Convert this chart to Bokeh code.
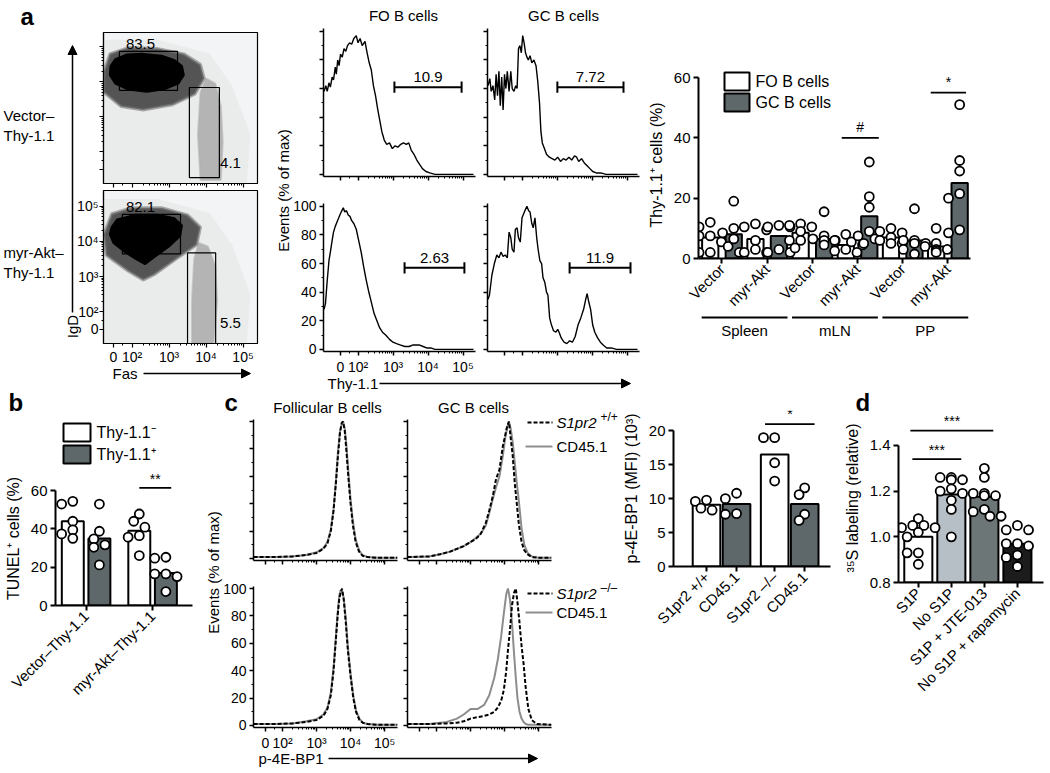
import math
from bokeh.plotting import figure
from bokeh.models import Range1d, FixedTicker, Arrow, NormalHead, Column, CustomLabelingPolicy
from bokeh.embed import file_html
from bokeh.resources import INLINE
from bokeh.core.properties import value

FONT = "Liberation Sans"
DARK = "#5e686a"
LIGHT = "#b6bec6"
MID = "#6d7677"
BLACK = "#1c1c1c"

# ---------------- data ----------------
# flow-cytometry display units: 0 -> 0, 10^2 -> 0.5, 10^3 -> 1.5, 10^4 -> 2.5, 10^5 -> 3.5
log_tick_pos = [0, 0.5, 1.5, 2.5, 3.5]
log_tick_lab = ["0", "10\u00b2", "10\u00b3", "10\u2074", "10\u2075"]

# panel a dot plots: gates (x0, x1, y0, y1) and their frequencies
gate_vec = [(0.16, 1.73, 2.26, 3.37), (2.05, 2.86, -0.23, 2.34)]
gate_akt = [(0.24, 1.81, 2.14, 3.26), (2.0, 2.76, -0.45, 2.17)]
freq_vec = ["83.5", "4.1"]
freq_akt = ["82.1", "5.5"]
# population outlines (display units)
vec_core_x = [-0.08, 0.05, 0.35, 0.8, 1.3, 1.65, 1.85, 1.9, 1.75, 1.4, 0.9, 0.4, 0.05, -0.1]
vec_core_y = [2.95, 3.15, 3.28, 3.3, 3.25, 3.12, 2.95, 2.7, 2.45, 2.3, 2.22, 2.28, 2.45, 2.7]
vec_halo_x = [-0.26, -0.1, 0.4, 1.2, 1.9, 2.35, 2.45, 2.2, 1.6, 0.8, 0.2, -0.26]
vec_halo_y = [2.8, 3.3, 3.48, 3.45, 3.3, 3.0, 2.6, 2.15, 1.85, 1.7, 1.8, 2.2]
vec_gc_x = [2.35, 2.9, 2.95, 2.9, 2.75, 2.5, 2.35, 2.28]
vec_gc_y = [-0.3, -0.3, 0.8, 1.8, 2.45, 2.6, 2.2, 1.0]
akt_core_x = [-0.05, 0.1, 0.6, 1.2, 1.65, 1.85, 1.8, 1.5, 1.1, 0.85, 0.6, 0.3, 0.0, -0.1]
akt_core_y = [2.9, 3.12, 3.25, 3.25, 3.15, 2.95, 2.65, 2.35, 2.05, 1.85, 2.0, 2.2, 2.45, 2.7]
akt_halo_x = [-0.26, -0.05, 0.5, 1.3, 2.0, 2.35, 2.25, 1.7, 1.1, 0.8, 0.4, -0.2]
akt_halo_y = [2.7, 3.28, 3.45, 3.45, 3.25, 2.9, 2.4, 2.0, 1.55, 1.4, 1.65, 2.1]
akt_gc_x = [2.12, 2.7, 2.8, 2.75, 2.55, 2.3, 2.18, 2.12]
akt_gc_y = [-0.4, -0.4, 0.8, 1.8, 2.35, 2.45, 2.0, 0.8]
sparse_x = [-0.27, 3.6, 3.7, 3.2, 2.6, 1.2, -0.27]
sparse_y = [-0.4, -0.4, 1.0, 2.4, 3.3, 3.7, 3.7]

# panel a histograms (Thy-1.1, % of max)
ha_fo_vec_x = [-0.47, -0.42, -0.38, -0.33, -0.29, -0.24, -0.2, -0.15, -0.12, -0.08, -0.04, 0.0, 0.05, 0.1, 0.15, 0.2, 0.26, 0.32, 0.38, 0.45, 0.5, 0.56, 0.62, 0.7, 0.76, 0.82, 0.88, 0.94, 1.0, 1.06, 1.12, 1.18, 1.25, 1.32, 1.4, 1.48, 1.56, 1.64, 1.72, 1.8, 1.88, 1.95, 2.02, 2.1, 2.18, 2.26, 2.34, 2.44, 2.55, 2.7, 3.8]
ha_fo_vec_y = [58, 62, 58, 64, 61, 68, 66, 75, 70, 80, 76, 84, 82, 88, 86, 90, 92, 91, 95, 97, 92, 95, 90, 93, 85, 78, 73, 62, 55, 46, 38, 30, 24, 21, 22, 18, 20, 19, 21, 22, 21, 22, 17, 14, 10, 7, 4, 2, 1, 0, 0]
ha_gc_vec_x = [-0.47, -0.42, -0.38, -0.33, -0.28, -0.24, -0.2, -0.16, -0.12, -0.08, -0.04, 0.0, 0.04, 0.08, 0.13, 0.18, 0.22, 0.27, 0.32, 0.36, 0.4, 0.44, 0.48, 0.52, 0.56, 0.6, 0.64, 0.68, 0.73, 0.78, 0.84, 0.9, 0.95, 1.0, 1.04, 1.08, 1.14, 1.2, 1.28, 1.36, 1.44, 1.52, 1.6, 1.68, 1.76, 1.84, 1.92, 2.0, 2.06, 2.12, 2.2, 2.28, 2.36, 2.44, 2.52, 2.62, 2.75, 2.9, 3.8]
ha_gc_vec_y = [62, 67, 58, 62, 52, 70, 55, 72, 48, 68, 45, 70, 60, 72, 58, 72, 60, 58, 62, 60, 88, 90, 85, 97, 92, 85, 82, 80, 83, 78, 80, 76, 65, 50, 30, 22, 18, 14, 12, 11, 10, 12, 9, 11, 10, 12, 10, 13, 12, 9, 11, 8, 6, 4, 2, 1, 1, 0, 0]
ha_fo_akt_x = [-0.47, -0.43, -0.38, -0.33, -0.29, -0.24, -0.2, -0.15, -0.1, -0.05, 0.0, 0.04, 0.08, 0.12, 0.17, 0.22, 0.27, 0.32, 0.38, 0.45, 0.52, 0.59, 0.66, 0.73, 0.8, 0.88, 0.96, 1.04, 1.12, 1.2, 1.29, 1.4, 1.5, 1.6, 1.72, 1.84, 1.96, 2.06, 2.16, 2.26, 2.36, 2.46, 2.58, 2.7, 3.8]
ha_fo_akt_y = [28, 32, 48, 62, 68, 76, 82, 86, 89, 92, 95, 97, 99, 96, 97, 94, 93, 90, 88, 84, 76, 68, 58, 49, 41, 33, 25, 20, 15, 12, 10, 7, 5, 4, 3, 2, 2, 3, 3, 3, 2, 1, 1, 0, 0]
ha_gc_akt_x = [-0.47, -0.43, -0.36, -0.29, -0.22, -0.16, -0.1, -0.04, 0.02, 0.08, 0.13, 0.18, 0.22, 0.27, 0.31, 0.36, 0.4, 0.45, 0.5, 0.55, 0.6, 0.64, 0.69, 0.73, 0.78, 0.82, 0.87, 0.92, 0.96, 1.01, 1.06, 1.1, 1.15, 1.2, 1.24, 1.29, 1.33, 1.4, 1.47, 1.52, 1.56, 1.62, 1.7, 1.78, 1.86, 1.94, 2.02, 2.1, 2.18, 2.26, 2.32, 2.36, 2.4, 2.46, 2.52, 2.58, 2.66, 2.74, 2.82, 2.92, 3.05, 3.2, 3.8]
ha_gc_akt_y = [35, 38, 52, 60, 66, 64, 68, 65, 66, 64, 82, 78, 70, 68, 84, 85, 78, 75, 92, 95, 98, 100, 97, 96, 88, 85, 92, 78, 70, 62, 60, 50, 47, 40, 38, 22, 18, 13, 12, 14, 12, 8, 5, 4, 6, 5, 9, 17, 22, 28, 35, 39, 34, 28, 17, 12, 8, 5, 3, 1, 1, 0, 0]
# gates on histograms: (start, end, height %) and frequency
ha_gates = [(1.54, 3.46, 61), (1.51, 3.4, 61), (1.83, 3.54, 57), (1.86, 3.6, 57)]
ha_freq = ["10.9", "7.72", "2.63", "11.9"]

# panel a bar chart: Thy-1.1+ cells (%)
a_constructs = ["Vector", "myr-Akt", "Vector", "myr-Akt", "Vector", "myr-Akt"]
a_tissues = ["Spleen", "mLN", "PP"]
a_fo_mean = [7.0, 6.5, 8.5, 4.5, 7.0, 4.0]
a_gc_mean = [8.0, 7.5, 6.5, 14.0, 6.0, 25.0]
a_fo_pts = [[12, 10.5, 7.5, 7.5, 5.5, 2, 2], [11.5, 10.5, 9.5, 6, 3, 2, 2], [11.5, 11, 10.5, 9, 6, 6, 3.5],
            [8, 6, 5.5, 4.5, 3, 2.5, 2], [10, 9, 8.5, 7, 6, 5, 5], [10, 5, 4, 3, 3, 2.5, 2]]
a_gc_pts = [[19, 10, 8.5, 6.5, 4, 2], [11, 10.5, 10.5, 3, 2, 2], [15.5, 7.5, 6.5, 6, 6, 4.5],
            [32, 20.5, 17, 9, 7.5, 6.5, 5], [16.5, 6, 6, 5, 5, 3, 1.5], [51, 32.5, 29, 21.5, 20, 9.5, 8.5]]

# panel b: TUNEL+ cells (%)
b_groups = ["Vector\u2013Thy-1.1", "myr-Akt\u2013Thy-1.1"]
b_neg_mean = [44.0, 39.0]
b_pos_mean = [35.0, 17.0]
b_neg_pts = [[54.4, 53, 44, 39.5, 37.4, 35.1], [47.8, 44, 40.9, 36.5, 35.7, 26.1]]
b_pos_pts = [[53, 38.8, 34.8, 31.7, 30.4, 21.2], [24.7, 25.2, 16.5, 15.1, 16.5, 7.3]]

# panel c histograms (p-4E-BP1, % of max)
hc_fo_wt_x = [-0.35, 0.3, 0.8, 1.2, 1.5, 1.7, 1.82, 1.92, 2.0, 2.07, 2.13, 2.19, 2.24, 2.28, 2.33, 2.38, 2.44, 2.5, 2.57, 2.65, 2.75, 2.85, 3.0, 3.3, 3.88]
hc_fo_wt_ko = [1, 1, 1.5, 2.5, 4, 7, 11, 20, 35, 55, 75, 92, 99, 100, 93, 78, 58, 40, 24, 12, 5, 2, 1, 0.5, 0.5]
hc_fo_wt_cd = [1, 1, 1.5, 2.5, 4.5, 7.5, 12, 21, 36, 57, 78, 93, 98, 100, 95, 82, 62, 43, 27, 14, 6, 2.5, 1, 0.5, 0.5]
hc_gc_wt_x = [-0.35, 0.3, 0.6, 0.9, 1.1, 1.3, 1.5, 1.65, 1.8, 1.95, 2.05, 2.15, 2.25, 2.35, 2.45, 2.52, 2.58, 2.63, 2.68, 2.74, 2.8, 2.86, 2.92, 3.0, 3.08, 3.18, 3.3, 3.5, 3.88]
hc_gc_wt_ko = [1, 1.5, 3, 5, 7, 9, 12, 14, 18, 26, 35, 45, 58, 65, 82, 90, 97, 100, 88, 75, 55, 40, 25, 12, 6, 3, 1, 0.5, 0.5]
hc_gc_wt_cd = [1, 1.5, 3, 5, 7, 9, 12, 15, 18, 24, 33, 43, 52, 60, 75, 88, 96, 100, 95, 85, 70, 55, 42, 22, 10, 4, 1.5, 0.5, 0.5]
hc_fo_ko_x = [-0.35, 0.3, 0.8, 1.2, 1.5, 1.7, 1.82, 1.92, 2.0, 2.06, 2.12, 2.17, 2.21, 2.25, 2.3, 2.36, 2.42, 2.5, 2.58, 2.66, 2.76, 2.86, 3.0, 3.3, 3.88]
hc_fo_ko_ko = [1, 1, 1.5, 2.5, 4, 7, 12, 22, 40, 60, 80, 93, 97, 100, 92, 75, 55, 36, 20, 10, 4, 2, 1, 0.5, 0.5]
hc_fo_ko_cd = [1, 1, 1.5, 3, 4.5, 8, 13, 24, 42, 62, 82, 95, 99, 98, 93, 78, 58, 38, 22, 11, 5, 2, 1, 0.5, 0.5]
hc_gc_ko_x = [-0.35, 0.3, 0.8, 1.1, 1.3, 1.5, 1.7, 1.9, 2.05, 2.2, 2.3, 2.4, 2.48, 2.55, 2.6, 2.66, 2.72, 2.78, 2.83, 2.88, 2.94, 3.0, 3.06, 3.12, 3.2, 3.3, 3.45, 3.88]
hc_gc_ko_ko = [1, 1, 1.5, 2, 3, 5, 6, 7, 8, 10, 13, 18, 26, 40, 55, 70, 88, 97, 100, 90, 75, 58, 45, 28, 12, 4, 1, 0.5]
hc_gc_ko_cd = [1, 1, 2.5, 5, 8, 12, 12, 15, 22, 35, 48, 65, 82, 96, 100, 92, 75, 52, 35, 20, 10, 5, 2.5, 1, 0.5, 0.5, 0.5, 0.5]

# panel c bar chart: p-4E-BP1 MFI (10^3)
c_labels = ["S1pr2 +/+", "CD45.1", "S1pr2 \u2013/\u2013", "CD45.1"]
c_mean = [9.1, 9.2, 16.5, 9.2]
c_pts = [[9.8, 9.6, 8.6, 8.3], [10.8, 10.0, 7.8, 7.7], [19.0, 19.0, 15.3, 12.6], [11.6, 10.6, 7.7, 6.8]]

# panel d: 35S labeling (relative)
d_labels = ["S1P", "No S1P", "S1P + JTE-013", "No S1P + rapamycin"]
d_mean = [1.0, 1.185, 1.175, 0.97]
d_pts = [[1.08, 1.05, 1.05, 1.04, 1.04, 1.02, 1.0, 0.93, 0.93, 0.88],
         [1.26, 1.26, 1.25, 1.25, 1.21, 1.2, 1.19, 1.16, 1.12, 1.0],
         [1.3, 1.26, 1.19, 1.19, 1.18, 1.18, 1.12, 1.11, 1.09, 1.09],
         [1.05, 1.03, 1.03, 0.97, 0.97, 0.96, 0.92, 0.91, 0.87]]

# ---------------- helpers ----------------
subplots = []
NO_LABELS = "const all = [...indices]; for (const i of all) { indices.unset(i) }; return indices"


def style_axis(ax, lw=2.0, fs="15px", labels=True):
    ax.axis_line_width = lw
    ax.axis_line_color = "black"
    ax.major_tick_line_width = lw
    ax.major_tick_line_color = "black"
    ax.minor_tick_line_color = "black"
    ax.major_tick_in = 0
    ax.major_tick_out = 5
    ax.minor_tick_in = 0
    ax.minor_tick_out = 3
    ax.minor_tick_line_width = 1
    ax.major_label_text_font = FONT
    ax.major_label_text_font_size = fs
    ax.major_label_text_color = "black"
    ax.major_label_standoff = 3
    if not labels:
        ax.major_label_policy = CustomLabelingPolicy(code=NO_LABELS)
    ax.axis_label_text_font = FONT
    ax.axis_label_text_font_style = "normal"
    ax.axis_label_text_font_size = "16px"
    ax.axis_label_text_color = "black"
    ax.axis_label_standoff = 6


def mkfig(fx0, fy0, fx1, fy1, xr, yr, bl=80, br=30, bt=30, bb=150):
    fw = int(round(fx1 - fx0))
    fh = int(round(fy1 - fy0))
    p = figure(frame_width=fw, frame_height=fh, x_range=Range1d(*xr), y_range=Range1d(*yr),
               min_border_left=bl, min_border_right=br, min_border_top=bt, min_border_bottom=bb,
               output_backend="svg", toolbar_location=None, frame_align=False,
               background_fill_color=None, border_fill_color=None, outline_line_color=None)
    p.xgrid.visible = False
    p.ygrid.visible = False
    p.styles = {"position": "absolute", "left": f"{int(round(fx0)) - bl}px",
                "top": f"{int(round(fy0)) - bt}px"}
    subplots.append(p)
    return p


def swarm(vals, center, sx, sy, diam=9.0):
    placed = []
    out = [0.0] * len(vals)
    order = sorted(range(len(vals)), key=lambda i: -vals[i])
    for i in order:
        yp = vals[i] * sy
        best = 0.0
        for k in (0, -1, 1, -2, 2, -3, 3):
            xp = k * diam * 0.62
            if all((xp - a) ** 2 + (yp - b) ** 2 >= (0.92 * diam) ** 2 for a, b in placed):
                best = xp
                break
        placed.append((best, yp))
        out[i] = center + best / sx
    return out


def dots(p, xs, ys):
    p.scatter(xs, ys, size=9, marker="circle", fill_color="white", line_color="black", line_width=1.8)


def overlay(x0, y0, w, h, bg):
    f = figure(frame_width=w, frame_height=h, x_range=Range1d(x0, x0 + w), y_range=Range1d(y0 + h, y0),
               output_backend="svg", toolbar_location=None, frame_align=False,
               min_border_left=0, min_border_right=0, min_border_top=0, min_border_bottom=0,
               x_axis_type=None, y_axis_type=None, outline_line_color=None,
               background_fill_color=bg, border_fill_color=bg)
    f.grid.visible = False
    f.styles = {"position": "absolute", "left": f"{x0}px", "top": f"{y0}px"}
    return f


# ---------------- overlays (labels, arrows, legends); coordinates = page pixels ----------------
ov = overlay(0, 0, 1034, 757, "white")
ov_bottom = overlay(240, 742, 320, 31, None)


def txt(x, y, s, size="15px", align="left", baseline="middle", angle=0.0, style="normal", color="black", f=None):
    (f or ov).text(x=[x], y=[y], text=[s], text_font=value(FONT), text_font_size=size, text_align=align,
                   text_baseline=baseline, angle=angle, text_font_style=style, text_color=color)


def arrow(x0, y0, x1, y1, f=None):
    (f or ov).add_layout(Arrow(end=NormalHead(size=9, fill_color="black", line_color="black"),
                               x_start=x0, y_start=y0, x_end=x1, y_end=y1, line_width=1.5, line_color="black"))


# panel letters
for s, x, y in [("a", 20, 16), ("b", 8, 402), ("c", 224, 402), ("d", 855, 402)]:
    txt(x, y, s, size="24px", style="bold")

# ---------------- panel a: dot plots ----------------
log_minor = [math.log10(k * 10 ** e) - 1.5 for e in (2, 3, 4) for k in range(2, 10)] + [0.25]


def flow_axes(p, lab):
    for ax in list(p.xaxis) + list(p.yaxis):
        style_axis(ax, lw=1.2, fs="14px", labels=lab)
        ax.ticker = FixedTicker(ticks=log_tick_pos, minor_ticks=log_minor)
        ax.major_label_overrides = {t: l for t, l in zip(log_tick_pos, log_tick_lab)}
        ax.major_tick_out = 4
        ax.minor_tick_out = 2
        ax.major_label_standoff = 1
    p.outline_line_color = "black"
    p.outline_line_width = 1.2
    p.background_fill_color = "#f3f4f5"


for (fy0, fy1, core, halo, gc, gates, freqs, lab) in [
        (32, 183, (vec_core_x, vec_core_y), (vec_halo_x, vec_halo_y), (vec_gc_x, vec_gc_y), gate_vec, freq_vec, False),
        (190, 343, (akt_core_x, akt_core_y), (akt_halo_x, akt_halo_y), (akt_gc_x, akt_gc_y), gate_akt, freq_akt, True)]:
    p = mkfig(103, fy0, 257, fy1, (-0.27, 3.89), (-0.4, 3.94 if fy1 - fy0 > 152 else 3.91), bb=60)
    flow_axes(p, lab)
    p.patch(sparse_x, sparse_y, fill_color="#e1e2e3", fill_alpha=0.45, line_color=None)
    p.patch(gc[0], gc[1], fill_color="#8f8f8f", fill_alpha=0.6, line_color="#b0b0b0", line_width=2, line_alpha=0.6)
    p.patch(halo[0], halo[1], fill_color="#3a3a3a", fill_alpha=0.85, line_color="#7a7a7a", line_width=3, line_alpha=0.6)
    p.patch(core[0], core[1], fill_color="black", line_color="black", line_width=2)
    p.quad(left=[g[0] for g in gates], right=[g[1] for g in gates], bottom=[g[2] for g in gates],
           top=[g[3] for g in gates], fill_color=None, line_color="black", line_width=1.2)
    p.text(x=[0.73, 3.16], y=[gates[0][3] + 0.08, 0.05], text=freqs, text_font=value(FONT),
           text_font_size="15px", text_align="center", text_baseline="bottom")

txt(3, 115, "Vector\u2013")
txt(3, 135, "Thy-1.1")
txt(3, 252, "myr-Akt\u2013")
txt(3, 272, "Thy-1.1")
arrow(72, 312, 72, 45)
txt(72, 326, "IgD", angle=math.pi / 2, align="center")
txt(112, 373, "Fas")
arrow(143, 373, 250, 373)

# ---------------- panel a: histograms ----------------
hist_minor_y = [10, 30, 50, 70, 90]


def hist_axes(p, xlab, ylab, lw=1.5):
    style_axis(p.xaxis[0], lw=lw, fs="14px", labels=xlab)
    style_axis(p.yaxis[0], lw=lw, fs="14px", labels=ylab)
    p.xaxis.ticker = FixedTicker(ticks=log_tick_pos, minor_ticks=log_minor)
    p.xaxis.major_label_overrides = {t: l for t, l in zip(log_tick_pos, log_tick_lab)}
    p.yaxis.ticker = FixedTicker(ticks=[0, 20, 40, 60, 80, 100], minor_ticks=hist_minor_y)
    p.xaxis.major_tick_out = 4
    p.yaxis.major_tick_out = 4
    p.xaxis.minor_tick_out = 2
    p.yaxis.minor_tick_out = 2


ha_cells = [(323, 28, ha_fo_vec_x, ha_fo_vec_y, False, False),
            (487, 28, ha_gc_vec_x, ha_gc_vec_y, False, False),
            (323, 203, ha_fo_akt_x, ha_fo_akt_y, True, True),
            (487, 203, ha_gc_akt_x, ha_gc_akt_y, False, False)]
for i, (fx, fy, hx, hy, xl, yl) in enumerate(ha_cells):
    p = mkfig(fx, fy, fx + 152, fy + 148, (-0.486, 3.857), (-1.5, 102), bb=50)
    hist_axes(p, xl, yl)
    p.line(hx, hy, line_color="black", line_width=1.4)
    g0, g1, gh = ha_gates[i]
    p.segment(x0=[g0, g0, g1], y0=[gh, gh - 4, gh - 4], x1=[g1, g0, g1], y1=[gh, gh + 4, gh + 4],
              line_color="black", line_width=2)
    p.text(x=[(g0 + g1) / 2], y=[gh + 3.5], text=[ha_freq[i]], text_font=value(FONT),
           text_font_size="15px", text_align="center", text_baseline="bottom")

txt(403, 15, "FO B cells", align="center")
txt(563, 15, "GC B cells", align="center")
txt(283, 190, "Events (% of max)", angle=math.pi / 2, align="center")
txt(327, 383, "Thy-1.1")
arrow(379, 383, 630, 383)

# ---------------- panel a: bar chart ----------------
AX0, AX1, AY0, AY1 = -0.52, 5.5, 0.0, 62.0
pa = mkfig(698, 258 - 62 * 3.017, 970, 258, (AX0, AX1), (AY0, AY1), bl=90)
sxa = 272 / (AX1 - AX0)
sya = (62 * 3.017) / (AY1 - AY0)
gi = list(range(len(a_constructs)))
pa.vbar(x=[g - 0.26 for g in gi], top=a_fo_mean, width=0.36, fill_color="white", line_color="black", line_width=2)
pa.vbar(x=[g + 0.26 for g in gi], top=a_gc_mean, width=0.36, fill_color=DARK, line_color="black", line_width=2)
for g in gi:
    dots(pa, swarm(a_fo_pts[g], g - 0.26, sxa, sya), a_fo_pts[g])
    dots(pa, swarm(a_gc_pts[g], g + 0.26, sxa, sya), a_gc_pts[g])
pa.segment(x0=[2.65, 4.62], y0=[40, 55], x1=[3.47, 5.4], y1=[40, 55], line_color="black", line_width=1.8)
pa.text(x=[3.06, 5.01], y=[41, 56], text=["#", "*"], text_font=value(FONT), text_font_size="14px",
        text_align="center", text_baseline="bottom")
style_axis(pa.xaxis[0])
style_axis(pa.yaxis[0])
pa.yaxis.ticker = FixedTicker(ticks=[0, 20, 40, 60])
pa.yaxis.bounds = (0, 60)
pa.yaxis.axis_label = "Thy-1.1\u207a cells (%)"
pa.xaxis.ticker = FixedTicker(ticks=gi)
pa.xaxis.major_label_overrides = {g: s for g, s in zip(gi, a_constructs)}
pa.xaxis.major_label_orientation = math.pi / 4

ov.quad(left=[724, 724], right=[749, 749], top=[72, 93], bottom=[90, 111], fill_color=["white", DARK],
        line_color="black", line_width=2)
txt(755, 81, "FO B cells", size="16px")
txt(755, 102, "GC B cells", size="16px")
for k, t in enumerate(a_tissues):
    xl = 698 + (2 * k - AX0 - 0.45) * sxa
    xr = 698 + (2 * k + 1 - AX0 + 0.45) * sxa
    ov.segment(x0=[xl], y0=[317], x1=[xr], y1=[317], line_color="black", line_width=1.8)
    txt((xl + xr) / 2, 330, t, align="center")

# ---------------- panel b ----------------
BX0, BX1, BY0, BY1 = -0.46, 1.6, 0.0, 70.0
pb = mkfig(55, 605 - 70 * 1.917, 192, 605, (BX0, BX1), (BY0, BY1), bl=70, bb=150)
sxb = 137 / (BX1 - BX0)
syb = 1.917
bg = list(range(len(b_groups)))
pb.vbar(x=[g - 0.2 for g in bg], top=b_neg_mean, width=0.33, fill_color="white", line_color="black", line_width=2)
pb.vbar(x=[g + 0.2 for g in bg], top=b_pos_mean, width=0.33, fill_color=DARK, line_color="black", line_width=2)
for g in bg:
    dots(pb, swarm(b_neg_pts[g], g - 0.2, sxb, syb), b_neg_pts[g])
    dots(pb, swarm(b_pos_pts[g], g + 0.2, sxb, syb), b_pos_pts[g])
pb.segment(x0=[0.8], y0=[61.4], x1=[1.28], y1=[61.4], line_color="black", line_width=1.8)
pb.text(x=[1.04], y=[62], text=["**"], text_font=value(FONT), text_font_size="14px",
        text_align="center", text_baseline="bottom")
style_axis(pb.xaxis[0])
style_axis(pb.yaxis[0])
pb.yaxis.ticker = FixedTicker(ticks=[0, 20, 40, 60])
pb.yaxis.bounds = (0, 60)
pb.yaxis.axis_label = "TUNEL\u207a cells (%)"
pb.xaxis.ticker = FixedTicker(ticks=bg)
pb.xaxis.major_label_overrides = {g: s for g, s in zip(bg, b_groups)}
pb.xaxis.major_label_orientation = math.pi / 4

ov.quad(left=[63, 63], right=[90, 90], top=[423, 445], bottom=[441, 463], fill_color=["white", DARK],
        line_color="black", line_width=2)
txt(96, 432, "Thy-1.1\u207b", size="16px")
txt(96, 454, "Thy-1.1\u207a", size="16px")

# ---------------- panel c: histograms ----------------
hc_cells = [(253, 419, hc_fo_wt_x, hc_fo_wt_ko, hc_fo_wt_cd, False, False),
            (407, 419, hc_gc_wt_x, hc_gc_wt_ko, hc_gc_wt_cd, False, False),
            (253, 586, hc_fo_ko_x, hc_fo_ko_ko, hc_fo_ko_cd, True, True),
            (407, 586, hc_gc_ko_x, hc_gc_ko_ko, hc_gc_ko_cd, False, False)]
for (fx, fy, hx, hko, hcd, xl, yl) in hc_cells:
    p = mkfig(fx, fy, fx + 144, fy + 141, (-0.353, 3.88), (-1.5, 101.5), bb=40)
    hist_axes(p, xl, yl)
    p.line(hx, hcd, line_color="#8d8d8d", line_width=2)
    p.line(hx, hko, line_color="black", line_width=2, line_dash="4 2")

txt(327, 407, "Follicular B cells", align="center")
txt(473, 407, "GC B cells", align="center")
for (yy, sup) in [(422, "+/+"), (593, "\u2013/\u2013")]:
    ov.line([527, 552], [yy, yy], line_color="black", line_width=2, line_dash="4 2")
    txt(556, yy, "S1pr2", style="italic")
    txt(600, yy - 6, sup, size="12px")
for yy in (446, 612):
    ov.line([525, 552], [yy, yy], line_color="#8d8d8d", line_width=2)
    txt(556, yy, "CD45.1")
txt(213, 572, "Events (% of max)", angle=math.pi / 2, align="center")
txt(258, 758, "p-4E-BP1", f=ov_bottom)
arrow(328, 758, 537, 758, f=ov_bottom)

# ---------------- panel c: bar chart ----------------
CX0, CX1, CY0, CY1 = -1.1, 4.13, 0.0, 23.0
pc = mkfig(673, 566 - 23 * 6.8, 830, 566, (CX0, CX1), (CY0, CY1), bl=70, bb=150)
sxc = 157 / (CX1 - CX0)
syc = 6.8
cpos = [i + 0.27 * (i // 2) for i in range(len(c_labels))]
pc.vbar(x=cpos, top=c_mean, width=0.92, fill_color=["white", DARK, "white", DARK], line_color="black", line_width=2)
for i, x in enumerate(cpos):
    dots(pc, swarm(c_pts[i], x, sxc, syc), c_pts[i])
pc.segment(x0=[1.95], y0=[21], x1=[3.6], y1=[21], line_color="black", line_width=1.8)
pc.text(x=[2.78], y=[21.3], text=["*"], text_font=value(FONT), text_font_size="14px",
        text_align="center", text_baseline="bottom")
style_axis(pc.xaxis[0])
style_axis(pc.yaxis[0])
pc.yaxis.ticker = FixedTicker(ticks=[0, 5, 10, 15, 20])
pc.yaxis.bounds = (0, 20)
pc.yaxis.axis_label = "p-4E-BP1 (MFI) (10\u00b3)"
pc.xaxis.ticker = FixedTicker(ticks=cpos)
pc.xaxis.major_label_overrides = {x: s for x, s in zip(cpos, c_labels)}
pc.xaxis.major_label_orientation = math.pi / 4

# ---------------- panel d ----------------
DX0, DX1, DY0, DY1 = -0.6, 3.79, 0.8, 1.54
pd_ = mkfig(898, 582 - 0.74 * 228.3, 1043, 582, (DX0, DX1), (DY0, DY1), bl=70, br=5, bb=150)
sxd = 145 / (DX1 - DX0)
syd = 228.3
dpos = list(range(len(d_labels)))
pd_.vbar(x=dpos, bottom=0.8, top=d_mean, width=0.85, fill_color=["white", LIGHT, MID, BLACK],
         line_color="black", line_width=2)
for i, x in enumerate(dpos):
    dots(pd_, swarm(d_pts[i], x, sxd, syd), d_pts[i])
pd_.segment(x0=[-0.18, -0.24], y0=[1.34, 1.465], x1=[1.3, 2.27], y1=[1.34, 1.465], line_color="black", line_width=1.8)
pd_.text(x=[0.56, 1.02], y=[1.345, 1.47], text=["***", "***"], text_font=value(FONT), text_font_size="14px",
         text_align="center", text_baseline="bottom")
style_axis(pd_.xaxis[0])
style_axis(pd_.yaxis[0])
pd_.yaxis.ticker = FixedTicker(ticks=[0.8, 1.0, 1.2, 1.4])
pd_.yaxis.major_label_overrides = {0.8: "0.8", 1.0: "1.0", 1.2: "1.2", 1.4: "1.4"}
pd_.yaxis.bounds = (0.8, 1.4)
pd_.yaxis.axis_label = "\u00b3\u2075S labeling (relative)"
pd_.xaxis.ticker = FixedTicker(ticks=dpos)
pd_.xaxis.major_label_overrides = {x: s for x, s in zip(dpos, d_labels)}
pd_.xaxis.major_label_orientation = math.pi / 4

root = Column(children=[ov] + subplots + [ov_bottom], width=1034, height=757, sizing_mode="fixed")
open("out.html", "w").write(file_html(root, INLINE))
